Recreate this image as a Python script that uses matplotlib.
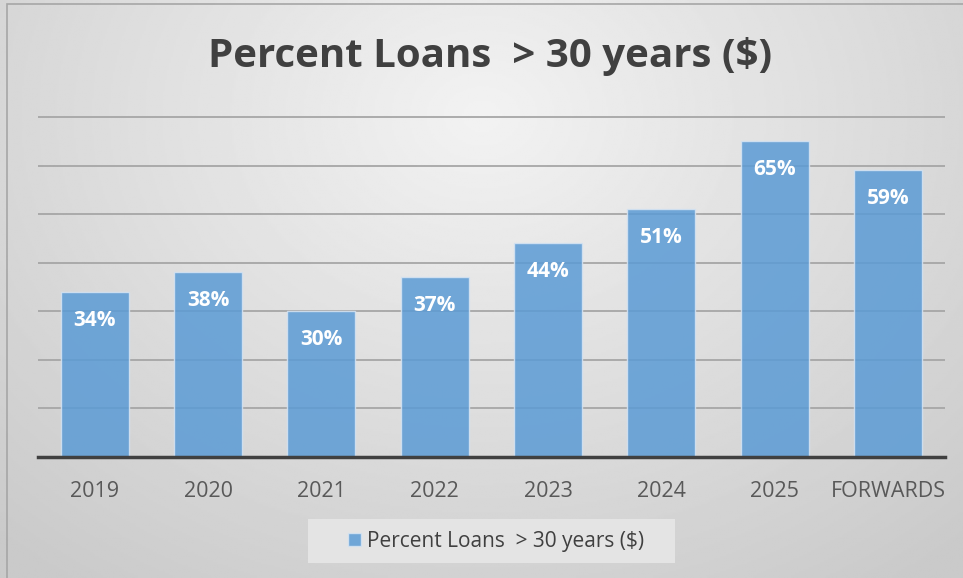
import numpy as np
import matplotlib
matplotlib.use('Agg')
import matplotlib.pyplot as plt
from matplotlib.patches import Rectangle

plt.rcParams['font.family'] = ['Open Sans', 'DejaVu Sans']

categories = ['2019', '2020', '2021', '2022', '2023', '2024', '2025', 'FORWARDS']
values = [0.34, 0.38, 0.30, 0.37, 0.44, 0.51, 0.65, 0.59]
labels = ['34%', '38%', '30%', '37%', '44%', '51%', '65%', '59%']
series_name = 'Percent Loans  > 30 years ($)'

fig = plt.figure(figsize=(9.63, 5.78), dpi=100)

# fundo com gradiente radial cinza
bg = fig.add_axes([0, 0, 1, 1], zorder=-2)
yy, xx = np.mgrid[0:1:300j, 0:1:500j]
r = np.sqrt(((xx - 0.5) / 0.75) ** 2 + ((yy - 0.2) / 1.0) ** 2)
bg.imshow(0.95 - 0.16 * np.clip(r, 0, 1), cmap='gray', vmin=0, vmax=1,
          extent=[0, 1, 0, 1], aspect='auto', origin='upper')
bg.set_axis_off()
bg.add_patch(Rectangle((0.0075, -0.01), 1.0, 1.003, transform=bg.transAxes,
                       fill=False, edgecolor='#a6a6a6', lw=1.2))
# caixa da legenda (mais larga que o frame padrão)
bg.add_patch(Rectangle((0.3198, 0.026), 0.381, 0.076, transform=bg.transAxes,
                       facecolor='#e4e4e4', edgecolor='none'))

ax = fig.add_axes([0.0395, 0.2093, 0.9415, 0.59])
ax.set_facecolor('none')
x = np.arange(len(categories))
bars = ax.bar(x, values, width=0.6, color='#5b9bd5', alpha=0.85,
              edgecolor='#d6e4f3', linewidth=1.0, zorder=3, label=series_name)

for xi, v, lab in zip(x, values, labels):
    ax.annotate(lab, xy=(xi, v), xytext=(0, -20.5), textcoords='offset points',
                ha='center', va='center', color='white', fontsize=15,
                fontweight='bold', zorder=4)

ax.set_xlim(-0.5, len(categories) - 0.5)
ax.set_ylim(0, 0.702)
ax.set_yticks(np.arange(0.1, 0.71, 0.1))
ax.yaxis.grid(True, color='#a6a6a6', lw=1.3, zorder=0)
ax.tick_params(axis='y', left=False, labelleft=False)
ax.tick_params(axis='x', length=0, pad=17, labelsize=15.5, colors='#595959')
ax.set_xticks(x)
ax.set_xticklabels(categories)
for s in ['top', 'right', 'left']:
    ax.spines[s].set_visible(False)
ax.spines['bottom'].set_color('#404040')
ax.spines['bottom'].set_linewidth(2.5)
ax.spines['bottom'].set_zorder(5)

fig.text(0.509, 0.902, series_name, ha='center', va='center',
         fontsize=29, fontweight='bold', color='#404040')

leg = fig.legend(handles=[bars], labels=[series_name], loc='center',
                 bbox_to_anchor=(0.515, 0.064), frameon=False,
                 fontsize=15, handlelength=0.6, handleheight=0.6,
                 handletextpad=0.3, borderpad=0, borderaxespad=0)
for t in leg.get_texts():
    t.set_color('#404040')

fig.savefig('out.png', dpi=100)
plt.close(fig)
